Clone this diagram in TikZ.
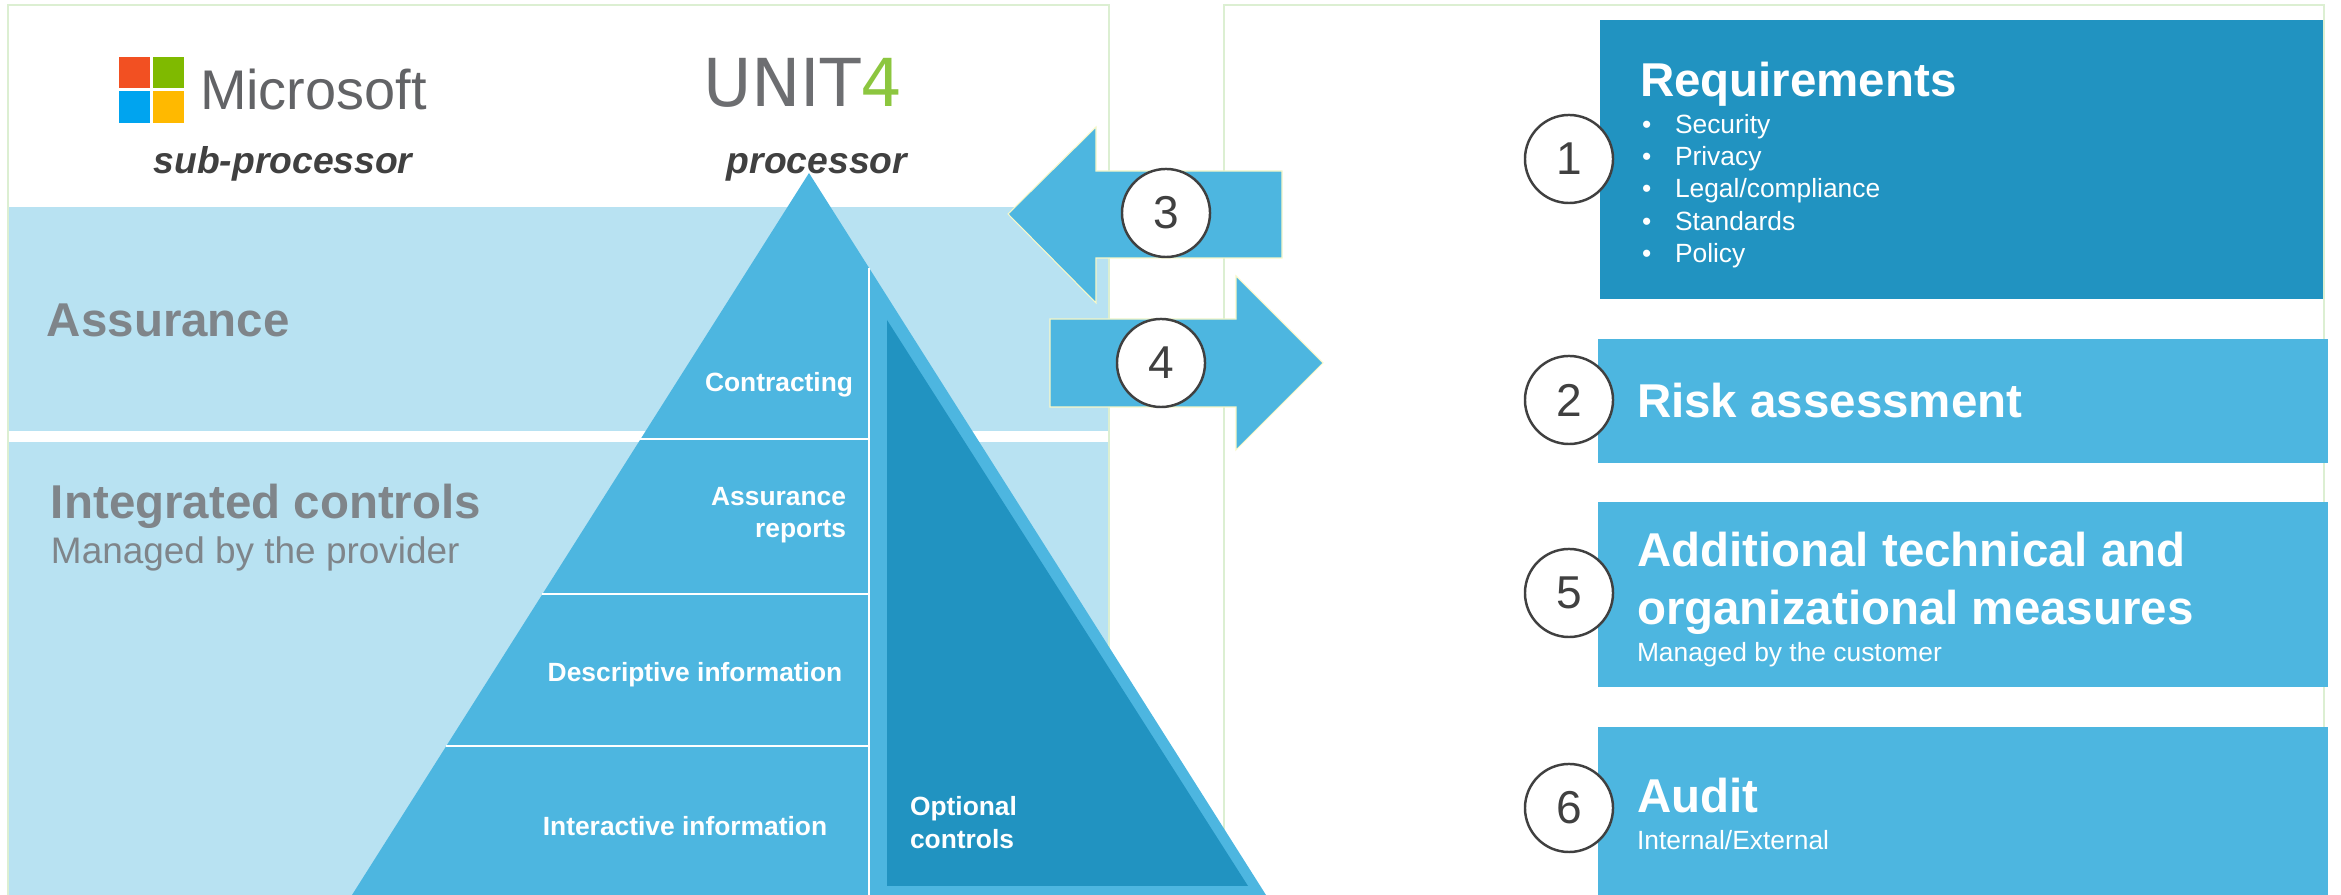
\documentclass[tikz,border=0pt]{standalone}
\usepackage{fontspec}
\setmainfont{Liberation Sans}
\newfontfamily\logofont{DejaVu Sans}
\definecolor{bandblue}{HTML}{B8E2F2}
\definecolor{midblue}{HTML}{4DB6E0}
\definecolor{darkblue}{HTML}{2193C1}
\definecolor{labelgray}{HTML}{7F858A}
\definecolor{inkgray}{HTML}{404040}
\definecolor{framegreen}{HTML}{DCEFD2}
\definecolor{arrowedge}{HTML}{F8F8C8}
\definecolor{msred}{HTML}{F25022}
\definecolor{msgreen}{HTML}{7FBA00}
\definecolor{msblue}{HTML}{00A4EF}
\definecolor{msyellow}{HTML}{FFB900}
\definecolor{unitgray}{HTML}{6D6E71}
\definecolor{unitgreen}{HTML}{8CC63F}
\begin{document}
\begin{tikzpicture}[x=0.01cm, y=-0.01cm,
  every node/.style={inner sep=0pt, outer sep=0pt},
  frame/.style={draw=framegreen, line width=0.45pt},
  split/.style={draw=white, line width=0.55pt},
  blockarrow/.style={fill=midblue, draw=arrowedge, line width=0.3pt},
  num/.style={circle, draw=inkgray, line width=0.7pt, fill=white, minimum size=0.88cm,
    text=inkgray, font=\fontsize{13.1}{13.1}\selectfont},
  head/.style={anchor=base west, text=labelgray, font=\fontsize{13.5}{16}\selectfont\bfseries},
  role/.style={anchor=base, text=inkgray, font=\fontsize{10.6}{12}\selectfont\bfseries\itshape},
  layer/.style={text=white, font=\fontsize{7.5}{9}\selectfont\bfseries},
  title/.style={anchor=base west, text=white, font=\fontsize{13.5}{16}\selectfont\bfseries},
  note/.style={anchor=base west, text=white, font=\fontsize{7.5}{9}\selectfont}]
 \useasboundingbox (0,0) rectangle (2341,895);

 % panels and bands
 \draw [frame] (8,5) rectangle (1109,900);
 \draw [frame] (1224,5) rectangle (2324,900);
 \fill [bandblue] (9,207) rectangle (1108,431);
 \fill [bandblue] (9,442) rectangle (1108,895);

 % pyramid
 \fill [midblue] (809,173) -- (352,895) -- (1266,895) -- cycle;
 \draw [split] (640,439) -- (869,439);
 \draw [split] (542,594) -- (869,594);
 \draw [split] (446,746) -- (869,746);
 \draw [split] (869,268) -- (869,895);
 \fill [darkblue] (887,320) -- (887,886) -- (1248,886) -- cycle;

 \node (contr) [layer, anchor=base east] at (853,392) {Contracting};
 \node (assrep1) [layer, anchor=base east] at (846,506) {Assurance};
 \node (assrep2) [layer, anchor=base east] at (846,538) {reports};
 \node (descr) [layer, anchor=base] at (695,682) {Descriptive information};
 \node (inter) [layer, anchor=base] at (685,836) {Interactive information};
 \node (opt1) [layer, anchor=base west] at (910,816) {Optional};
 \node (opt2) [layer, anchor=base west] at (910,849) {controls};

 \node (assur) [head] at (47,337) {Assurance};
 \node (intctl) [head] at (51,519) {Integrated controls};
 \node (mgdprov) [anchor=base west, text=labelgray, font=\fontsize{10.5}{12}\selectfont] at (51,564) {Managed by the provider};

 % logos
 \fill [msred] (119,57) rectangle (150,88);
 \fill [msgreen] (153,57) rectangle (184,88);
 \fill [msblue] (119,91) rectangle (150,123);
 \fill [msyellow] (153,91) rectangle (184,123);
 \node (mstext) [anchor=base west, text=unitgray!90!black, font=\fontsize{15.9}{16}\selectfont] at (200,110) {Microsoft};
 \node (unit4) [anchor=base west, font=\logofont\fontsize{18.8}{19}\selectfont] at (703,107)
   {\textcolor{unitgray}{UNIT}\textcolor{unitgreen}{4}};
 \node (subproc) [role] at (283,174) {sub-processor};
 \node (proc) [role] at (817,174) {processor};

 % right boxes
 \fill [darkblue] (1600,20) rectangle (2323,299);
 \fill [midblue] (1598,339) rectangle (2328,463);
 \fill [midblue] (1598,502) rectangle (2328,687);
 \fill [midblue] (1598,727) rectangle (2328,895);

 \node (req) [title] at (1640,97) {Requirements};
 \foreach \txt [count=\i] in {Security, Privacy, Legal/compliance, Standards, Policy}
   \node (req\i) [note] at (1642,101+32.3*\i) {\makebox[0.33cm][l]{\textbullet}\txt};
 \node (risk) [title] at (1637,418) {Risk assessment};
 \node (addl1) [title] at (1637,567) {Additional technical and};
 \node (addl2) [title] at (1637,625) {organizational measures};
 \node (mgdcust) [note] at (1637,662) {Managed by the customer};
 \node (audit) [title] at (1637,813) {Audit};
 \node (intext) [note] at (1637,850) {Internal/External};

 % arrows 3 and 4
 \draw [blockarrow] (1282,171) -- (1096,171) -- (1096,127) -- (1008,214)
   -- (1096,303) -- (1096,258) -- (1282,258) -- cycle;
 \draw [blockarrow] (1050,319) -- (1236,319) -- (1236,276) -- (1323,363)
   -- (1236,450) -- (1236,407) -- (1050,407) -- cycle;

 % step numbers
 \node (n1) [num] at (1569,159) {1};
 \node (n2) [num] at (1569,400) {2};
 \node (n3) [num] at (1166,213) {3};
 \node (n4) [num] at (1161,363) {4};
 \node (n5) [num] at (1569,593) {5};
 \node (n6) [num] at (1569,808) {6};
\end{tikzpicture}
\end{document}
